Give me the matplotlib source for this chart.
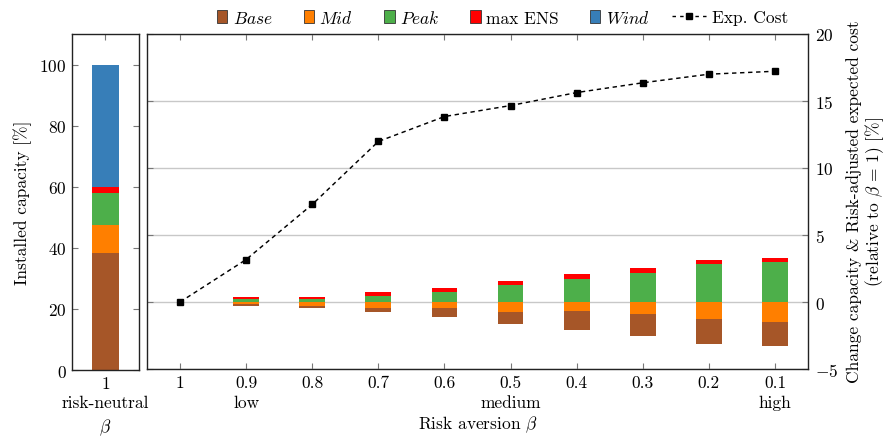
import matplotlib
matplotlib.use("Agg")
import matplotlib.pyplot as plt
import numpy as np
from matplotlib.patches import Patch
from matplotlib.lines import Line2D
from matplotlib.transforms import blended_transform_factory, offset_copy

FS = 12.5
plt.rcParams.update({
    "font.family": "serif",
    "font.serif": ["cmr10"],
    "mathtext.fontset": "cm",
    "axes.formatter.use_mathtext": True,
    "axes.unicode_minus": True,
    "font.size": FS,
})

# Risk-neutral capacity mix [%]
neutral_base = 38.2
neutral_mid = 9.3
neutral_peak = 10.4
neutral_ens = 2.0
neutral_wind = 40.1

# Risk aversion levels and their capacity changes relative to beta = 1 [%]
beta_labels = ["1", "0.9", "0.8", "0.7", "0.6", "0.5", "0.4", "0.3", "0.2", "0.1"]
beta_notes = ["", "low", "", "", "", "medium", "", "", "", "high"]
base_chg = [0, -0.13, -0.20, -0.30, -0.67, -0.90, -1.45, -1.69, -1.84, -1.84]
mid_chg = [0, -0.17, -0.28, -0.46, -0.46, -0.76, -0.66, -0.86, -1.28, -1.46]
peak_chg = [0, 0.22, 0.21, 0.46, 0.78, 1.30, 1.73, 2.20, 2.80, 2.95]
ens_chg = [0, 0.12, 0.20, 0.25, 0.30, 0.30, 0.34, 0.33, 0.30, 0.30]
exp_cost = [0, 3.17, 7.28, 11.98, 13.84, 14.66, 15.63, 16.36, 17.00, 17.22]

c_base = "#A65628"
c_mid = "#FF7F00"
c_peak = "#4DAF4A"
c_ens = "#FF0000"
c_wind = "#377EB8"
tick_col = "#777777"
spine_col = "#222222"

fig = plt.figure(figsize=(8.87, 4.39), dpi=100)
W, H = 887, 439


def rect(x0, x1, y0, y1):
    return [x0 / W, 1 - y1 / H, (x1 - x0) / W, (y1 - y0) / H]


def note_below(axis, xpos, text, drop_px):
    """Second line of an x tick label, placed a fixed distance below the axis."""
    tr = blended_transform_factory(axis.transData, axis.transAxes)
    tr = offset_copy(tr, fig=fig, x=0, y=-drop_px * 72 / fig.dpi, units="points")
    axis.text(xpos, 0, text, transform=tr, ha="center", va="top")


# ---- left panel: risk-neutral mix ----
axl = fig.add_axes(rect(72, 139, 35, 371))
bw_l = 0.40
bottom = 0.0
for val, col in [(neutral_base, c_base), (neutral_mid, c_mid), (neutral_peak, c_peak),
                 (neutral_ens, c_ens), (neutral_wind, c_wind)]:
    axl.bar([1], [val], bottom=bottom, width=bw_l, color=col, edgecolor="none", zorder=2)
    bottom += val
axl.set_xlim(0.5, 1.5)
axl.set_ylim(0, 110)
axl.set_yticks([0, 20, 40, 60, 80, 100])
axl.set_xticks([1])
axl.set_xticklabels(["1"])
note_below(axl, 1, "risk-neutral", 25)
axl.set_xlabel(r"$\beta$", labelpad=18.5)
axl.set_ylabel("Installed capacity [%]", labelpad=5)
axl.tick_params(axis="both", direction="in", length=4, color=tick_col,
                top=True, right=True, pad=4)
for s in axl.spines.values():
    s.set_color(spine_col)
    s.set_linewidth(1.0)

# ---- right panel: changes and expected cost ----
ax = fig.add_axes(rect(147, 808, 35, 370))
x = np.arange(len(beta_labels))
bw = 0.39
mid_arr = np.array(mid_chg)
peak_arr = np.array(peak_chg)
ax.bar(x, mid_arr, width=bw, color=c_mid, edgecolor="none", zorder=2)
ax.bar(x, base_chg, bottom=mid_arr, width=bw, color=c_base, edgecolor="none", zorder=2)
ax.bar(x, peak_arr, width=bw, color=c_peak, edgecolor="none", zorder=2)
ax.bar(x, ens_chg, bottom=peak_arr, width=bw, color=c_ens, edgecolor="none", zorder=2)
ax.plot(x, exp_cost, color="black", linestyle=(0, (3, 2.5)), linewidth=1.05,
        marker="s", markersize=5, zorder=3)

ax.set_xlim(-0.5, len(beta_labels) - 0.5)
ax.set_ylim(-5, 20)
ax.set_yticks([-5, 0, 5, 10, 15, 20])
ax.set_xticks(x)
ax.set_xticklabels(beta_labels)
for xi, note in zip(x, beta_notes):
    if note:
        note_below(ax, xi, note, 26)
ax.set_xlabel(r"Risk aversion $\beta$", labelpad=17)
ax.grid(axis="y", color="#c8c8c8", linewidth=1.0, zorder=0)
ax.set_axisbelow(True)
ax.tick_params(axis="y", which="both", direction="in", length=4, color=tick_col,
               left=True, right=True, labelleft=False, labelright=True, pad=5)
ax.tick_params(axis="x", direction="in", length=4, color=tick_col, top=True, pad=4)
for s in ax.spines.values():
    s.set_color(spine_col)
    s.set_linewidth(1.0)

# right-hand axis title, two centred lines
fig.text(866 / W, 1 - 202 / H,
         "Change capacity & Risk-adjusted expected cost\n"
         r"(relative to $\beta\,=\,1$) [%]",
         rotation=90, ha="center", va="center", multialignment="center",
         linespacing=1.08)

# ---- legend ----
patch_handles = [Patch(facecolor=c, edgecolor="#333333", linewidth=0.6)
                 for c in (c_base, c_mid, c_peak, c_ens, c_wind)]
patch_labels = [r"$\mathit{Base}$", r"$\mathit{Mid}$", r"$\mathit{Peak}$", "max ENS",
                r"$\mathit{Wind}$"]
leg1 = fig.legend(patch_handles, patch_labels, loc="center left",
                  bbox_to_anchor=(217 / W, 1 - 18 / H), ncol=5, frameon=False,
                  handlelength=0.6, handleheight=0.8, handletextpad=0.3,
                  columnspacing=1.8, borderaxespad=0, borderpad=0)
cost_handle = Line2D([], [], color="black", linestyle=(0, (2.5, 3)), linewidth=1.0,
                     marker="s", markersize=4)
leg2 = fig.legend([cost_handle], ["Exp. Cost"], loc="center left",
                  bbox_to_anchor=(672 / W, 1 - 18 / H), frameon=False,
                  handlelength=2.0, handletextpad=0.3, borderaxespad=0, borderpad=0)

fig.savefig("out.png", dpi=100)
